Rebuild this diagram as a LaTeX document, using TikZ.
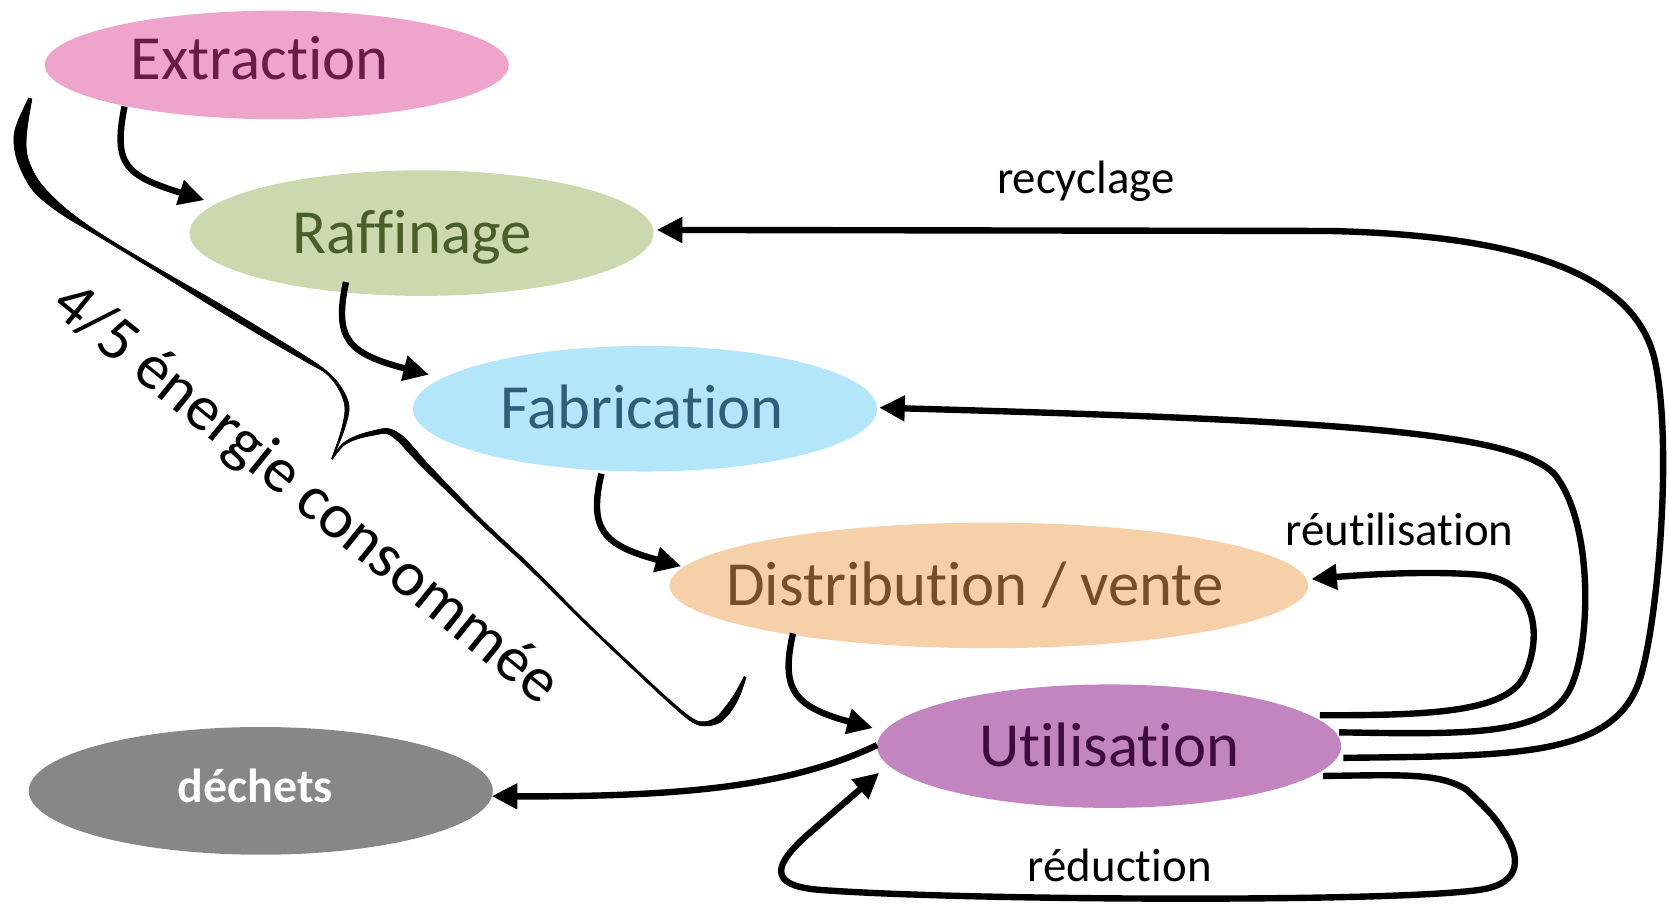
\documentclass[tikz,border=0pt]{standalone}
\usepackage{fontspec}
\setmainfont[Ligatures=NoCommon]{Carlito}
\usetikzlibrary{arrows.meta,shapes.geometric,calc}
\definecolor{extfill}{HTML}{EEA4CB}
\definecolor{exttext}{HTML}{6B1B48}
\definecolor{raffill}{HTML}{CCD9AE}
\definecolor{raftext}{HTML}{4A5E2A}
\definecolor{fabfill}{HTML}{B3E6F9}
\definecolor{fabtext}{HTML}{2F5F78}
\definecolor{disfill}{HTML}{F6D0A8}
\definecolor{distext}{HTML}{74502A}
\definecolor{utifill}{HTML}{C285BF}
\definecolor{utitext}{HTML}{3F0B3E}
\definecolor{decfill}{HTML}{878787}
% centred text: #1 = horizontal shift, #2 = vertical shift
\NewDocumentCommand{\ctext}{O{0pt} O{0pt} m}{\makebox[0pt]{\smash{\raisebox{\dimexpr-0.322em+#2\relax}{\kern#1#3\kern-#1}}}}
\begin{document}
\begin{tikzpicture}[x=1pt,y=-1pt,
  stage/.style={ellipse, inner sep=0pt, minimum width=436pt, minimum height=118pt,
                font=\fontsize{59}{60}\selectfont},
  flow/.style={line width=6pt, -{Triangle[length=24pt,width=23pt]}},
  lbl/.style={inner sep=0pt, font=\fontsize{44}{46}\selectfont},
  bracefill/.style={fill=black, draw=black, line width=0.6pt, line join=round},
]
\useasboundingbox (0,0) rectangle (1568,851);

% stages
\node[stage, fill=extfill, text=exttext, minimum height=102pt] (ext) at (260,61) {\ctext[-16pt][5pt]{Extraction}};
\node[stage, fill=raffill, text=raftext] (raf) at (396,219) {\ctext[-9pt]{Raffinage}};
\node[stage, fill=fabfill, text=fabtext] (fab) at (606,384) {\ctext[-3pt]{Fabrication}};
\node[stage, fill=disfill, text=distext, minimum width=600pt] (dis) at (929,550) {\ctext[-13pt]{Distribution / vente}};
\node[stage, fill=utifill, text=utitext, minimum height=116pt] (uti) at (1042,701) {\ctext{Utilisation}};
\node[stage, fill=decfill, text=white, minimum height=120pt, font=\fontsize{45}{46}\selectfont\bfseries] (dec) at (245,743) {\ctext[-5pt][4pt]{déchets}};

% chain arrows
\draw[flow] ($(ext)+(-143,39)$) .. controls (106,155) and (118,165) .. ($(raf)+(-204,-31)$);
\draw[flow] ($(raf)+(-71,46)$) .. controls (314,318) and (326,332) .. ($(fab)+(-203,-32)$);
\draw[flow] ($(fab)+(-41,61)$) .. controls (553,497) and (566,512) .. ($(dis)+(-289,-18)$);
\draw[flow] ($(dis)+(-184,45)$) .. controls (733,648) and (746,664) .. ($(uti)+(-222,-17)$);
\draw[flow] ($(uti)+(-218,-1)$) .. controls (750,735) and (660,749) .. ($(dec)+(217,5)$);

% recyclage
\draw[flow] ($(uti)+(220,11)$) .. controls (1420,710) and (1515,712) .. (1540,640)
  .. controls (1557,590) and (1572,420) .. (1555,340)
  .. controls (1540,270) and (1460,222) .. (1250,217) -- ($(raf)+(221,-3)$);
% to Fabrication
\draw[flow] ($(uti)+(216,-13)$) .. controls (1380,690) and (1455,692) .. (1476,645)
  .. controls (1495,603) and (1497,490) .. (1460,445)
  .. controls (1420,405) and (1250,395) .. ($(fab)+(220,-1)$);
% reutilisation
\draw[flow] ($(uti)+(198,-29)$) .. controls (1340,672) and (1415,670) .. (1432,635)
  .. controls (1449,600) and (1445,545) .. (1390,540)
  .. controls (1340,536) and (1280,540) .. ($(dis)+(303,-6)$);
% reduction
\draw[flow] ($(uti)+(201,28)$) .. controls (1320,728) and (1352,726) .. (1378,742)
  .. controls (1395,758) and (1405,768) .. (1412,780)
  .. controls (1428,803) and (1432,830) .. (1390,836)
  .. controls (1306,848) and (900,846) .. (770,836)
  .. controls (720,832) and (727,812) .. (760,783) -- ($(uti)+(-216,25)$);

% labels
\node[lbl] (lrec) at (1020,168) {\ctext{recyclage}};
\node[lbl] (lreu) at (1315,498) {\ctext{réutilisation}};
\node[lbl] (lred) at (1052,814) {\ctext{réduction}};

% brace (tapered outline)
\path[bracefill] plot[smooth, tension=0.55] coordinates {(27,92) (16,116) (13,132) (17,153) (31,179) (56,200)
    (96.2,224.3) (149.1,256.5) (198.6,287.4) (248.6,317.4) (289,340.7) (306.3,350.8) (317.7,364.7)
    (324,382.1) (320.8,403.8) (311.6,430.7)}
  -- plot[smooth, tension=0.55] coordinates {(312.4,431.3) (323.2,404.3) (328,381.9) (320.3,363.3)
    (307.7,349.3) (291,337.3) (251.4,312.6) (201.4,282.6) (150.9,253.5) (97.8,221.7) (63,197)
    (38,172) (26,148) (25,125) (30,93)} -- cycle;
\path[bracefill] plot[smooth, tension=0.55] coordinates {(311.6,430.7) (321.3,417.3) (334.4,409.6) (349.6,405)
    (364.5,402.6) (378.1,409.5) (392.4,424.8) (406,440.1) (452.2,487.7) (499,531.9) (545.8,579.2)
    (589.8,621.2) (630.8,659.1) (651.8,675.7) (662.9,678) (673.3,673.5) (682.4,663) (690.8,650.9)
    (699.1,635.6)}
  -- plot[smooth, tension=0.55] coordinates {(700.9,636.4) (695.2,653.1) (687.6,667) (676.7,678.5)
    (663.1,682) (650.2,678.3) (629.2,660.9) (588.2,622.8) (544.2,580.8) (497,534.1) (449.8,490.3)
    (402,443.9) (387.6,429.2) (373.9,414.5) (363.5,407.5) (350.4,409) (335.6,412.4) (322.7,418.7)
    (312.4,431.3)} -- cycle;

\node[rotate=-39, inner sep=0pt, font=\fontsize{60}{62}\selectfont] (ener) at (289,462) {\ctext{4/5 énergie consommée}};
\end{tikzpicture}
\end{document}
